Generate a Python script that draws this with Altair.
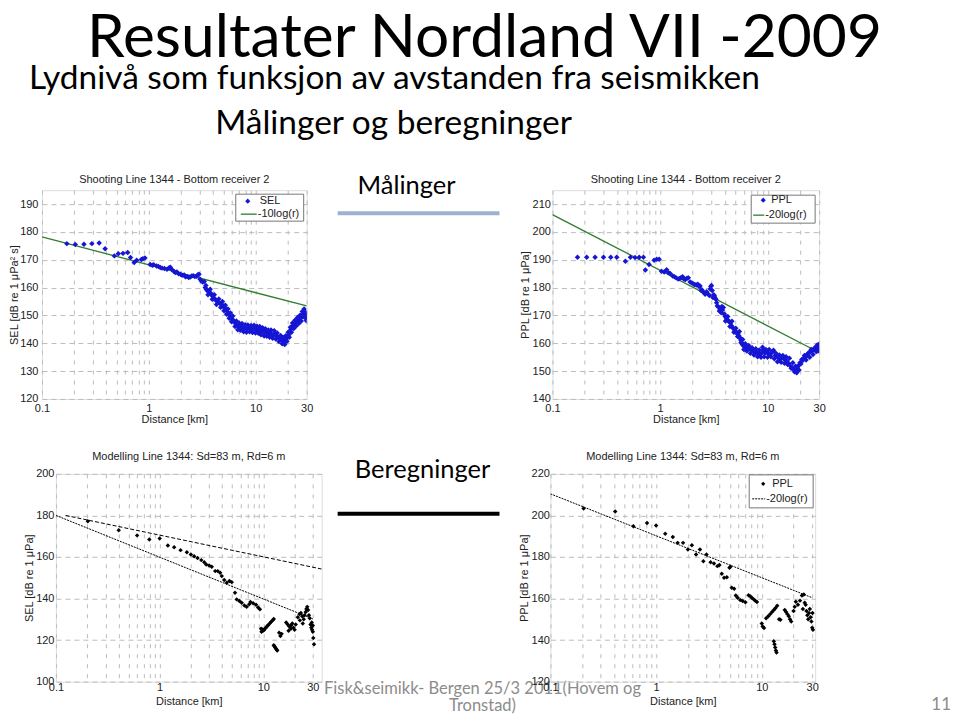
import altair as alt
import pandas as pd

# ---------------- data ----------------
# Top-left: measured SEL  (distance km, dB)
TL_PTS = [
    (0.171, 175.8), (0.205, 175.5), (0.247, 175.6), (0.293, 175.8), (0.343, 176.0), (0.390, 174.0), (0.476, 171.4),
    (0.518, 172.2), (0.573, 172.3), (0.634, 172.6), (0.674, 170.8), (0.730, 169.0), (0.770, 169.8), (0.850, 170.1),
    (0.880, 170.4), (0.920, 170.6), (1.03, 168.3), (1.08, 168.0), (1.11, 168.2), (1.18, 167.8), (1.23, 167.6),
    (1.28, 167.2), (1.33, 167.0), (1.40, 166.9), (1.48, 166.6), (1.55, 167.1), (1.59, 167.3), (1.65, 166.4),
    (1.71, 165.9), (1.77, 165.4), (1.83, 165.6), (1.90, 165.0), (1.98, 164.8), (2.05, 164.4), (2.14, 164.5),
    (2.20, 163.9), (2.28, 164.0), (2.36, 163.6), (2.44, 163.8), (2.52, 164.2), (2.60, 164.3), (2.70, 164.0),
    (2.80, 164.1), (2.88, 164.6), (2.95, 164.8), (3.02, 163.0), (3.10, 162.4), (3.20, 162.0), (3.30, 162.2),
    (3.37, 160.0), (3.45, 159.4), (3.52, 159.0), (3.60, 158.6), (3.70, 158.3), (3.80, 157.9), (3.87, 157.5),
    (3.95, 156.9), (4.05, 156.3), (4.15, 155.9), (4.25, 155.5), (4.35, 155.0), (4.45, 154.8), (4.60, 154.4),
    (4.80, 154.0), (4.95, 153.4), (5.10, 152.8), (5.25, 152.2), (5.40, 151.4), (5.55, 150.8), (5.70, 150.0),
    (5.85, 149.4), (6.00, 148.8), (6.15, 148.3), (6.30, 147.7), (6.50, 147.0), (6.70, 146.4), (6.90, 146.1),
    (7.10, 145.9), (7.30, 146.3), (7.55, 145.6), (7.80, 145.2), (8.05, 145.5), (8.30, 145.1), (8.60, 145.6),
    (8.90, 145.2), (9.20, 145.0), (9.50, 145.4), (9.80, 145.1), (10.1, 145.0), (10.4, 144.6), (10.7, 145.0),
    (11.0, 144.6), (11.4, 144.2), (11.7, 144.4), (12.1, 143.8), (12.5, 144.0), (12.9, 143.6), (13.3, 143.3),
    (13.7, 143.8), (14.1, 143.2), (14.6, 143.0), (15.1, 143.3), (15.6, 142.6), (16.2, 142.2), (16.8, 141.6),
    (17.4, 141.4), (18.0, 140.9), (18.4, 140.6), (18.9, 141.2), (19.3, 141.6), (19.8, 142.4), (20.3, 143.0),
    (20.8, 144.0), (21.3, 145.0), (21.8, 145.6), (22.4, 146.4), (23.0, 146.8), (23.6, 147.3), (24.2, 147.8),
    (24.9, 148.2), (25.6, 148.6), (26.3, 149.0), (27.0, 149.6), (27.6, 150.6), (28.1, 151.2), (28.6, 150.8),
    (29.1, 150.2), (29.6, 149.6), (30.0, 149.2),
    (3.42, 160.8), (3.58, 157.4), (3.75, 159.4), (3.92, 155.8), (4.10, 157.4), (4.30, 153.9), (4.52, 155.9),
    (4.70, 152.9), (4.88, 155.0), (5.05, 151.7), (5.20, 153.7), (5.35, 150.4), (5.50, 152.3), (5.65, 149.0),
    (5.80, 150.9), (5.95, 147.7), (6.10, 149.8), (6.40, 146.0), (6.60, 148.0), (6.80, 144.9), (7.00, 147.3),
    (7.20, 144.7), (7.45, 147.1), (7.70, 144.1), (7.95, 146.7), (8.20, 144.0), (8.45, 146.6), (8.75, 144.1),
    (9.05, 146.4), (9.35, 143.9), (9.65, 146.5), (9.95, 143.7), (10.3, 146.1), (10.6, 143.6), (10.9, 146.0),
    (11.2, 143.1), (11.6, 145.6), (12.0, 142.6), (12.3, 145.2), (12.7, 142.5), (13.1, 144.8), (13.5, 142.2),
    (13.9, 144.8), (14.4, 141.8), (14.9, 144.5), (15.4, 141.5), (15.9, 143.7), (16.5, 140.6), (17.1, 142.8),
    (17.7, 139.8), (18.2, 142.1), (18.7, 139.6), (19.1, 142.7), (19.6, 140.7), (20.1, 144.0), (20.6, 142.2),
    (21.1, 145.8), (21.6, 144.0), (22.1, 147.3), (22.7, 145.3), (23.3, 148.3), (23.9, 146.2), (24.6, 149.3),
    (25.3, 147.1), (26.0, 150.1), (26.7, 148.0), (27.3, 151.4), (27.9, 149.6), (28.4, 152.3), (28.9, 149.2),
    (29.4, 151.2), (29.8, 148.1),
]
TL_LINE = [(0.1, 178.2), (30, 153.4)]

# Top-right: measured PPL
TR_PTS = [
    (0.171, 190.9), (0.208, 190.9), (0.249, 190.9), (0.298, 190.9), (0.348, 190.9), (0.396, 190.9), (0.476, 189.5),
    (0.530, 190.9), (0.585, 190.8), (0.640, 190.9), (0.700, 190.9), (0.730, 186.3), (0.790, 188.3), (0.880, 189.8),
    (0.930, 190.2), (0.980, 190.2), (1.03, 185.9), (1.09, 185.6), (1.15, 186.4), (1.20, 185.3), (1.24, 185.1),
    (1.31, 184.2), (1.36, 183.9), (1.41, 183.5), (1.47, 183.1), (1.52, 183.3), (1.57, 183.6), (1.62, 183.9),
    (1.67, 183.0), (1.72, 182.9), (1.78, 183.4), (1.83, 183.5), (1.90, 182.0), (1.97, 181.7), (2.04, 181.3),
    (2.10, 181.1), (2.17, 180.9), (2.24, 181.2), (2.30, 180.4), (2.35, 180.6), (2.40, 179.0), (2.44, 179.2),
    (2.50, 178.5), (2.56, 178.2), (2.62, 177.6), (2.70, 178.5), (2.78, 177.8), (2.87, 177.2), (2.92, 179.5),
    (2.96, 180.4), (3.00, 180.8), (3.05, 179.0), (3.10, 176.4), (3.15, 177.4), (3.20, 177.0), (3.25, 176.2),
    (3.30, 175.8), (3.35, 174.6), (3.40, 173.4), (3.50, 173.0), (3.60, 172.3), (3.70, 171.0), (3.80, 172.0),
    (3.87, 172.9), (3.95, 170.5), (4.00, 169.8), (4.10, 169.2), (4.20, 168.5), (4.30, 168.0), (4.40, 167.8),
    (4.50, 167.3), (4.60, 166.3), (4.70, 165.8), (4.80, 165.3), (4.90, 164.9), (5.00, 164.4), (5.10, 163.9),
    (5.20, 163.5), (5.30, 163.3), (5.40, 162.6), (5.50, 162.1), (5.60, 161.2), (5.70, 160.4), (5.80, 159.7),
    (5.90, 159.2), (6.10, 158.8), (6.30, 158.5), (6.50, 158.0), (6.80, 158.2), (7.00, 157.6), (7.30, 157.3),
    (7.60, 156.9), (7.90, 156.7), (8.20, 156.3), (8.50, 156.1), (8.80, 156.6), (9.10, 157.7), (9.40, 156.5),
    (9.80, 156.8), (10.1, 156.3), (10.5, 156.0), (10.9, 156.8), (11.3, 157.5), (11.7, 155.6), (12.1, 155.3),
    (12.6, 154.7), (13.0, 154.3), (13.5, 154.8), (14.0, 154.6), (14.5, 154.0), (15.0, 153.6), (15.6, 152.8),
    (16.2, 151.9), (16.8, 151.2), (17.4, 150.7), (17.9, 150.1), (18.3, 149.8), (18.8, 150.6), (19.2, 151.9),
    (19.9, 153.0), (20.7, 154.2), (21.5, 154.6), (22.3, 154.9), (23.1, 155.8), (24.0, 156.6), (24.9, 157.0),
    (25.8, 157.3), (26.8, 157.8), (27.8, 158.1), (28.5, 158.8), (29.0, 158.5), (29.6, 157.9), (30.0, 158.3),
    (3.55, 171.6), (3.75, 173.2), (4.05, 168.0), (4.25, 169.6), (4.45, 166.0), (4.65, 167.9), (4.85, 164.0),
    (5.05, 165.4), (5.25, 162.4), (5.45, 164.2), (5.65, 160.2), (5.85, 161.4), (6.00, 157.8), (6.20, 159.8),
    (6.40, 157.2), (6.65, 159.2), (6.90, 156.4), (7.15, 158.4), (7.45, 155.8), (7.75, 158.0), (8.05, 155.2),
    (8.35, 157.6), (8.65, 155.0), (8.95, 158.6), (9.25, 155.2), (9.60, 157.8), (9.95, 155.0), (10.3, 157.8),
    (10.7, 155.2), (11.1, 157.0), (11.5, 154.4), (11.9, 156.4), (12.3, 153.4), (12.8, 155.8), (13.3, 153.2),
    (13.8, 155.6), (14.3, 152.8), (14.8, 155.2), (15.3, 152.4), (15.9, 154.6), (16.5, 151.0), (17.1, 153.0),
    (17.7, 149.8), (18.1, 151.8), (18.6, 149.4), (19.0, 151.6), (19.5, 150.4), (20.3, 152.6), (21.1, 153.8),
    (21.9, 155.6), (22.7, 154.0), (23.5, 156.2), (24.5, 155.0), (25.3, 157.8), (26.3, 156.0), (27.3, 158.4),
    (28.2, 157.0), (28.8, 159.4), (29.3, 157.2), (29.8, 159.6),
]
TR_LINE = [(0.1, 206.2), (30, 156.7)]

# Bottom-left: modelled SEL
BL_PTS = [
    (0.203, 177.2), (0.403, 172.9), (0.606, 170.4), (0.795, 168.4), (1.00, 168.9), (1.20, 165.5), (1.38, 164.7),
    (1.59, 163.3), (1.83, 162.3), (2.00, 161.2), (2.15, 160.4), (2.32, 159.5), (2.52, 158.5), (2.69, 157.5),
    (2.81, 156.4), (3.00, 155.9), (3.18, 155.3), (3.43, 153.2), (3.63, 153.2), (3.83, 152.4), (3.97, 150.8),
    (4.19, 148.9), (4.44, 147.6), (4.71, 148.4), (4.96, 147.9), (5.33, 142.8), (5.53, 139.6), (5.87, 138.8),
    (6.18, 138.0), (6.56, 136.7), (6.90, 136.1), (7.30, 137.2), (7.50, 138.3), (7.97, 137.7), (8.50, 137.0),
    (8.90, 135.7), (9.26, 134.8),
    (9.50, 125.5), (9.70, 125.2), (10.0, 124.8), (9.6, 124.0), (9.9, 124.5), (10.2, 125.0), (10.5, 125.8),
    (10.8, 126.5), (11.1, 127.2), (11.5, 128.0), (11.9, 128.8), (12.3, 129.6), (12.6, 130.2),
    (12.6, 117.5), (12.8, 117.0), (13.0, 116.5), (13.2, 116.0), (13.4, 115.5), (13.6, 115.0),
    (14.2, 123.5), (14.6, 122.0), (15.0, 123.0),
    (16.6, 128.5), (17.2, 127.5), (17.8, 126.5), (18.4, 125.5), (17.5, 124.5), (18.5, 127.0), (19.0, 128.0),
    (19.5, 126.0), (20.0, 125.0), (20.5, 127.5),
    (21.5, 131.0), (22.3, 132.5), (23.0, 133.0), (23.7, 131.5), (24.5, 130.0), (25.0, 132.0), (25.6, 133.5),
    (26.0, 135.0), (26.5, 136.0), (27.0, 134.5), (27.5, 132.0), (28.0, 130.5), (22.5, 129.5), (24.0, 128.0),
    (28.5, 127.5), (29.0, 126.0), (29.5, 125.0), (30.0, 124.0), (30.0, 127.0), (30.3, 121.0), (30.8, 118.0),
    (29.3, 128.5),
]
BL_UPPER = [(0.124, 180.0), (36.5, 154.2)]
BL_LOWER = [(0.1, 180.0), (30, 130.2)]

# Bottom-right: modelled PPL
BR_PTS = [
    (0.206, 203.3), (0.41, 201.9), (0.61, 194.8), (0.82, 196.4), (1.00, 195.2), (1.22, 191.2), (1.44, 189.6),
    (1.60, 186.8), (1.80, 186.8), (2.00, 183.6), (2.18, 185.7), (2.39, 181.2), (2.60, 183.6), (2.80, 178.0),
    (3.00, 181.2), (3.28, 177.5), (3.53, 176.9), (3.80, 175.6), (3.97, 176.1), (4.18, 171.9), (4.40, 170.0),
    (4.67, 170.3), (4.95, 174.8), (5.05, 175.3), (5.20, 165.2), (5.48, 164.7), (5.68, 161.5), (5.90, 160.4),
    (6.25, 159.3), (6.60, 158.8), (7.00, 158.2), (7.50, 161.6), (7.80, 161.0), (8.10, 160.3), (8.40, 159.6),
    (8.70, 158.9), (9.00, 158.3),
    (10.0, 148.0), (10.2, 146.5), (10.5, 145.8), (11.0, 150.5), (11.5, 151.5), (12.0, 152.5), (12.5, 153.5),
    (13.0, 154.5), (13.5, 155.5), (14.0, 156.5), (13.0, 139.5), (13.2, 138.0), (13.4, 136.5), (13.6, 135.0),
    (13.8, 134.0), (14.6, 150.0), (15.0, 149.8),
    (16.5, 154.5), (17.0, 153.5), (17.5, 152.5), (18.0, 151.5), (18.5, 150.0), (19.0, 149.0), (20.0, 154.0),
    (20.5, 156.0), (21.0, 158.5), (22.0, 157.0), (23.0, 159.0), (24.0, 161.5), (25.0, 162.0), (24.5, 155.0),
    (25.5, 158.0), (26.0, 157.0), (26.5, 154.0), (27.0, 152.0), (27.5, 150.0), (28.0, 153.0), (28.5, 155.0),
    (29.0, 151.0), (29.5, 149.0), (30.0, 146.0), (30.5, 145.0), (30.2, 153.0),
]
BR_LINE = [(0.1, 210.4), (30, 160.4)]

# tick values
X_GRID = [0.1, 0.2, 0.3, 0.4, 0.5, 0.6, 0.7, 0.8, 0.9, 1, 2, 3, 4, 5, 6, 7, 8, 9, 10, 20, 30]
TL_YTICKS = [120, 130, 140, 150, 160, 170, 180, 190]
TR_YTICKS = [140, 150, 160, 170, 180, 190, 200, 210]
BL_YTICKS = [100, 120, 140, 160, 180, 200]
BR_YTICKS = [120, 140, 160, 180, 200, 220]

# ---------------- styling ----------------
AXF = "Liberation Sans"
SLF = "Lato"
GRID = "#bcbcbc"

OX = 41    # page x of the top-left plot's left edge (= group origin x)
R1 = 189   # page y of the top row plots
S = 100    # vconcat spacing
OVH = 84   # overlay height  (row2 top = R1 + 2*S + OVH)
OV_Y = R1 + S  # page y of overlay chart top

DUMMY = pd.DataFrame({"a": [0]})


def to_df(pts):
    return pd.DataFrame(pts, columns=["x", "v"])


def xaxis(lpad, tpad):
    return alt.Axis(values=X_GRID, title="Distance [km]",
                    labelExpr="datum.value == 0.1 ? '0.1' : datum.value == 1 ? '1' : datum.value == 10 ? '10' : datum.value == 30 ? '30' : ''",
                    grid=True, gridColor=GRID, gridDash=[4, 6], gridWidth=1,
                    ticks=False, domain=False, labelOverlap=False, labelFlush=False,
                    labelFont=AXF, labelFontSize=11, labelColor="#222", labelPadding=lpad,
                    titleFont=AXF, titleFontSize=11, titleFontWeight="normal", titleColor="#222",
                    titlePadding=tpad)


def yaxis(vals, title, lpad, tx):
    return alt.Axis(values=vals, title=title, format="d",
                    grid=True, gridColor=GRID, gridDash=[5, 4], gridWidth=1,
                    ticks=False, domain=False, labelOverlap=False,
                    labelFont=AXF, labelFontSize=11, labelColor="#222", labelPadding=lpad,
                    titleFont=AXF, titleFontSize=11, titleFontWeight="normal", titleColor="#222",
                    titleX=tx, titleBaseline="middle", titleAngle=270)


def vtext(txt, x, y, size=11, color="#222", font=AXF, align="left", baseline="middle"):
    return alt.Chart(DUMMY).mark_text(text=txt, font=font, fontSize=size, color=color,
                                      align=align, baseline=baseline).encode(
        x=alt.value(x), y=alt.value(y))


def vrule(x1, x2, y, color, width=1, dash=None):
    kw = dict(color=color, strokeWidth=width)
    if dash:
        kw["strokeDash"] = dash
    return alt.Chart(DUMMY).mark_rule(**kw).encode(x=alt.value(x1), x2=alt.value(x2), y=alt.value(y))


def vbox(x1, x2, y1, y2):
    return alt.Chart(DUMMY).mark_rect(fill="white", stroke="#777", strokeWidth=1).encode(
        x=alt.value(x1), x2=alt.value(x2), y=alt.value(y1), y2=alt.value(y2))


def vsym(x, y, color, size):
    return alt.Chart(DUMMY).mark_point(shape="diamond", filled=True, color=color, size=size, opacity=1).encode(
        x=alt.value(x), y=alt.value(y))


def panel(pts, xdom, ydom, yticks, ytitle, color, msize, lines, title, w, h, ylpad, ytx, xlpad, xtpad,
          legend, toff):
    xenc = alt.X("x:Q", scale=alt.Scale(type="log", domain=xdom, nice=False), axis=xaxis(xlpad, xtpad))
    yenc = alt.Y("v:Q", scale=alt.Scale(domain=ydom, nice=False, zero=False), axis=yaxis(yticks, ytitle, ylpad, ytx))
    layers = []
    for (lpts, lcol, ldash, lw) in lines:
        kw = dict(color=lcol, strokeWidth=lw, clip=True)
        if ldash:
            kw["strokeDash"] = ldash
        layers.append(alt.Chart(to_df(lpts)).mark_line(**kw).encode(x=xenc, y=yenc))
    layers.append(alt.Chart(to_df(pts)).mark_point(shape="diamond", filled=True, color=color, size=msize,
                                                   opacity=1, clip=True).encode(x=xenc, y=yenc))
    layers.extend(legend)
    return alt.layer(*layers).properties(
        width=w, height=h,
        title=alt.TitleParams(title, font=AXF, fontSize=11, fontWeight="normal", color="#222",
                              anchor="middle", offset=toff))


BLUE = "#1515d4"
GREEN = "#2f7d2f"

TL_LEG = [vbox(194, 262, 4, 31), vsym(206, 11, BLUE, 26), vtext("SEL", 218, 11),
          vrule(199, 215, 24, GREEN, 1.3), vtext("-10log(r)", 216, 24)]
TR_LEG = [vbox(199, 263, 5, 33), vsym(211, 10, BLUE, 26), vtext("PPL", 219, 10),
          vrule(201, 212, 25, GREEN, 1.3), vtext("-20log(r)", 213, 25)]
BR_LEG = [vbox(199, 263, 1, 34), vsym(213, 10, "black", 18), vtext("PPL", 222, 10),
          vrule(202, 215, 25, "black", 1, [2, 1]), vtext("-20log(r)", 216, 25)]

TL = panel(TL_PTS, [0.1, 30], [120, 195], TL_YTICKS, "SEL [dB re 1 μPa² s]", BLUE, 30,
           [(TL_LINE, GREEN, None, 1.3)], "Shooting Line 1344 - Bottom receiver 2",
           265, 209, 4, -27, 4, 0, TL_LEG, 5)
TR = panel(TR_PTS, [0.1, 30], [140, 215], TR_YTICKS, "PPL [dB re 1 μPa]", BLUE, 30,
           [(TR_LINE, GREEN, None, 1.3)], "Shooting Line 1344 - Bottom receiver 2",
           267, 209, 2, -27, 4, 0, TR_LEG, 5)
BL = panel(BL_PTS, [0.1, 36.5], [100, 200], BL_YTICKS, "SEL [dB re 1 μPa]", "black", 20,
           [(BL_UPPER, "black", [4, 2], 1), (BL_LOWER, "black", [2, 1], 1)],
           "Modelling Line 1344:  Sd=83 m, Rd=6 m", 266, 208, 2, -26, 0, 3, [], 6)
BR = panel(BR_PTS, [0.1, 32], [120, 220], BR_YTICKS, "PPL [dB re 1 μPa]", "black", 20,
           [(BR_LINE, "black", [2, 1], 1)],
           "Modelling Line 1344:  Sd=83 m, Rd=6 m", 265, 208, 1, -26, 0, 3, BR_LEG, 6)


def P(x, y):
    return x - OX, y - OV_Y


# overlay with all slide texts (absolute positions, page coordinates converted)
ov = []


def otext(txt, px, ptop, size, color="black", align="left", font=SLF):
    x, y = P(px, ptop)
    ov.append(vtext(txt, x, y, size=size, color=color, font=font, align=align, baseline="top"))


otext("Resultater Nordland VII -2009", 484, 8, 60.5, align="center")
otext("Lydnivå som funksjon av avstanden fra seismikken", 28, 62, 33.5)
otext("Målinger og beregninger", 393, 107, 33.5, align="center")
otext("Målinger", 406, 173, 25.5, align="center")
otext("Beregninger", 422, 457, 25.5, align="center")
otext("Fisk&seimikk- Bergen 25/3 2011(Hovem og", 482, 680, 16.5, color="#8c8c8c", align="center")
otext("Tronstad)", 482, 697, 16.5, color="#8c8c8c", align="center")
otext("11", 951, 696, 17, color="#8c8c8c", align="right")
x1, y1 = P(337, 212)
x2, _ = P(499, 212)
ov.append(vrule(x1, x2, y1, "#9db2cf", 4))
x1, y1 = P(337, 513)
x2, _ = P(499, 513)
ov.append(vrule(x1, x2, y1, "black", 4))

overlay = alt.layer(*ov).properties(width=880, height=OVH, view=alt.ViewBackground(stroke="transparent"))

spacer = alt.Chart(DUMMY).mark_point(opacity=0).encode(x=alt.value(0), y=alt.value(0)).properties(
    width=4, height=10, view=alt.ViewBackground(stroke="transparent"))

row1 = alt.hconcat(TL, TR, spacing=246, bounds="flush")
row2 = alt.hconcat(spacer, alt.hconcat(BL, BR, spacing=229, bounds="flush"), spacing=10, bounds="flush")

chart = alt.vconcat(row1, overlay, row2, spacing=S, bounds="flush").properties(
    padding={"left": 0, "top": 0, "right": 0, "bottom": 0}
).configure_view(stroke="#555", strokeWidth=1).configure(background="white")

chart.save("out.html", embed_options={"renderer": "svg", "actions": False})
